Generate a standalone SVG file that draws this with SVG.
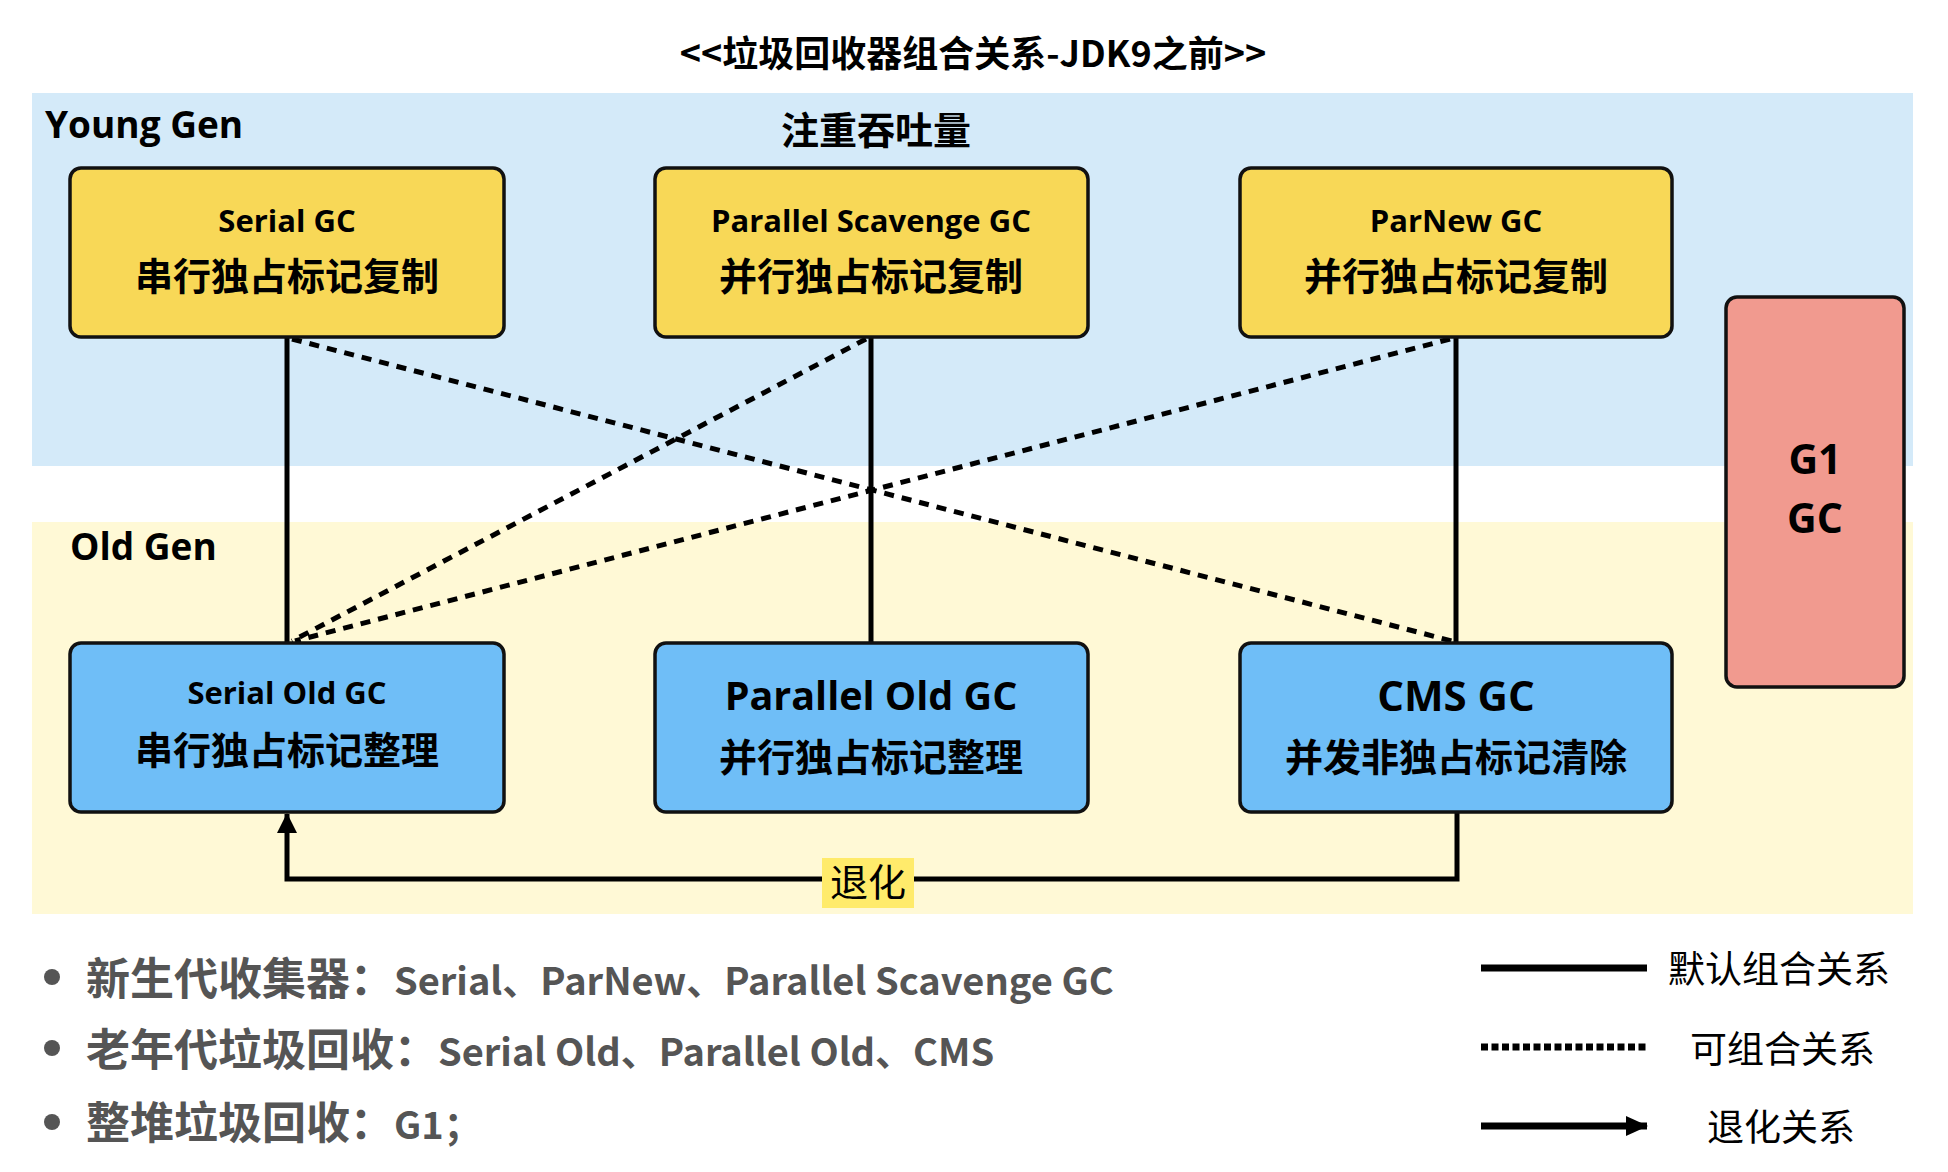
<svg xmlns="http://www.w3.org/2000/svg" width="1948" height="1172" viewBox="0 0 1948 1172">
<style>
.lat{font-family:"Open Sans","Noto Sans CJK SC",sans-serif;font-weight:700;fill:#000}
.cjk{font-family:"Noto Sans CJK SC","Open Sans",sans-serif;fill:#000}
.b{font-weight:700}
.mid{text-anchor:middle}
.box{stroke:#111;stroke-width:3.5}
.yb{fill:#F8D857}
.bb{fill:#6FBEF7}
.solid{stroke:#000;stroke-width:5;fill:none}
.dash{stroke:#000;stroke-width:5;fill:none;stroke-dasharray:10 8}
.leg{fill:#555;font-family:"Noto Sans CJK SC",sans-serif;font-weight:700;font-size:44px}
.legl{font-size:38px}
</style>
<defs>
<marker id="ah" viewBox="0 0 20 20" refX="19" refY="10" markerWidth="20" markerHeight="20" markerUnits="userSpaceOnUse" orient="auto">
<path d="M0,0 L20,10 L0,20 Z" fill="#000"/>
</marker>
<marker id="ah2" viewBox="0 0 22 20" refX="21" refY="10" markerWidth="22" markerHeight="20" markerUnits="userSpaceOnUse" orient="auto">
<path d="M0,0 L22,10 L0,20 Z" fill="#000"/>
</marker>
</defs>
<rect width="1948" height="1172" fill="#fff"/>
<!-- bands -->
<rect x="32" y="93" width="1881" height="373" fill="#D4EAF9"/>
<rect x="32" y="522" width="1881" height="392" fill="#FFF9D6"/>
<text class="cjk b mid" x="973" y="67" font-size="36">&lt;&lt;垃圾回收器组合关系-JDK9之前&gt;&gt;</text>
<text class="lat" x="45" y="138" font-size="37">Young Gen</text>
<text class="cjk b mid" x="876" y="144" font-size="38">注重吞吐量</text>
<text class="lat" x="70" y="560" font-size="37">Old Gen</text>

<g id="connectors">
<line class="solid" x1="287" y1="338" x2="287" y2="642"/>
<line class="solid" x1="871" y1="338" x2="871" y2="642"/>
<line class="solid" x1="1456" y1="338" x2="1456" y2="642"/>
<line class="dash" x1="292" y1="339" x2="1452" y2="641"/>
<line class="dash" x1="866" y1="339" x2="292" y2="641"/>
<line class="dash" x1="1450" y1="339" x2="295" y2="641"/>
<path class="solid" d="M1457,812 V879 H287 V814" marker-end="url(#ah)"/>
<rect x="822" y="858" width="92" height="50" fill="#FFEB6B"/>
<text class="cjk mid" x="868" y="896" font-size="38">退化</text>
</g>

<g id="serial-gc">
<rect class="box yb" x="70" y="168" width="434" height="169" rx="11"/>
<text class="lat mid" x="287" y="232" font-size="31">Serial GC</text>
<text class="cjk b mid" x="287" y="290" font-size="38">串行独占标记复制</text>
</g>
<g id="parallel-scavenge-gc">
<rect class="box yb" x="655" y="168" width="433" height="169" rx="11"/>
<text class="lat mid" x="871" y="232" font-size="31">Parallel Scavenge GC</text>
<text class="cjk b mid" x="871" y="290" font-size="38">并行独占标记复制</text>
</g>
<g id="parnew-gc">
<rect class="box yb" x="1240" y="168" width="432" height="169" rx="11"/>
<text class="lat mid" x="1456" y="232" font-size="31">ParNew GC</text>
<text class="cjk b mid" x="1456" y="290" font-size="38">并行独占标记复制</text>
</g>
<g id="serial-old-gc">
<rect class="box bb" x="70" y="643" width="434" height="169" rx="11"/>
<text class="lat mid" x="287" y="704" font-size="31">Serial Old GC</text>
<text class="cjk b mid" x="287" y="764" font-size="38">串行独占标记整理</text>
</g>
<g id="parallel-old-gc">
<rect class="box bb" x="655" y="643" width="433" height="169" rx="11"/>
<text class="lat mid" x="871" y="710" font-size="39.5">Parallel Old GC</text>
<text class="cjk b mid" x="871" y="771" font-size="38">并行独占标记整理</text>
</g>
<g id="cms-gc">
<rect class="box bb" x="1240" y="643" width="432" height="169" rx="11"/>
<text class="lat mid" x="1456" y="711" font-size="42">CMS GC</text>
<text class="cjk b mid" x="1456" y="771" font-size="38">并发非独占标记清除</text>
</g>
<g id="g1-gc">
<rect class="box" x="1726" y="297" width="178" height="390" rx="11" fill="#F19A8F"/>
<text class="lat mid" x="1815" y="474" font-size="41">G1</text>
<text class="lat mid" x="1815" y="533" font-size="41">GC</text>
</g>

<g id="legend">
<circle cx="52" cy="977" r="8" fill="#555"/>
<circle cx="52" cy="1048" r="8" fill="#555"/>
<circle cx="52" cy="1122" r="8" fill="#555"/>
<text class="leg" x="86" y="995">新生代收集器：<tspan class="legl">Serial、ParNew、Parallel Scavenge GC</tspan></text>
<text class="leg" x="86" y="1066">老年代垃圾回收：<tspan class="legl">Serial Old、Parallel Old、CMS</tspan></text>
<text class="leg" x="86" y="1139">整堆垃圾回收：<tspan class="legl">G1；</tspan></text>
<line x1="1481" y1="968" x2="1647" y2="968" stroke="#000" stroke-width="7"/>
<line x1="1481" y1="1047" x2="1647" y2="1047" stroke="#000" stroke-width="7" stroke-dasharray="7 3.5"/>
<line x1="1481" y1="1126" x2="1647" y2="1126" stroke="#000" stroke-width="7" marker-end="url(#ah2)"/>
<text class="cjk" x="1668" y="983" font-size="37">默认组合关系</text>
<text class="cjk" x="1690" y="1063" font-size="37">可组合关系</text>
<text class="cjk" x="1707" y="1141" font-size="37">退化关系</text>
</g>
</svg>
